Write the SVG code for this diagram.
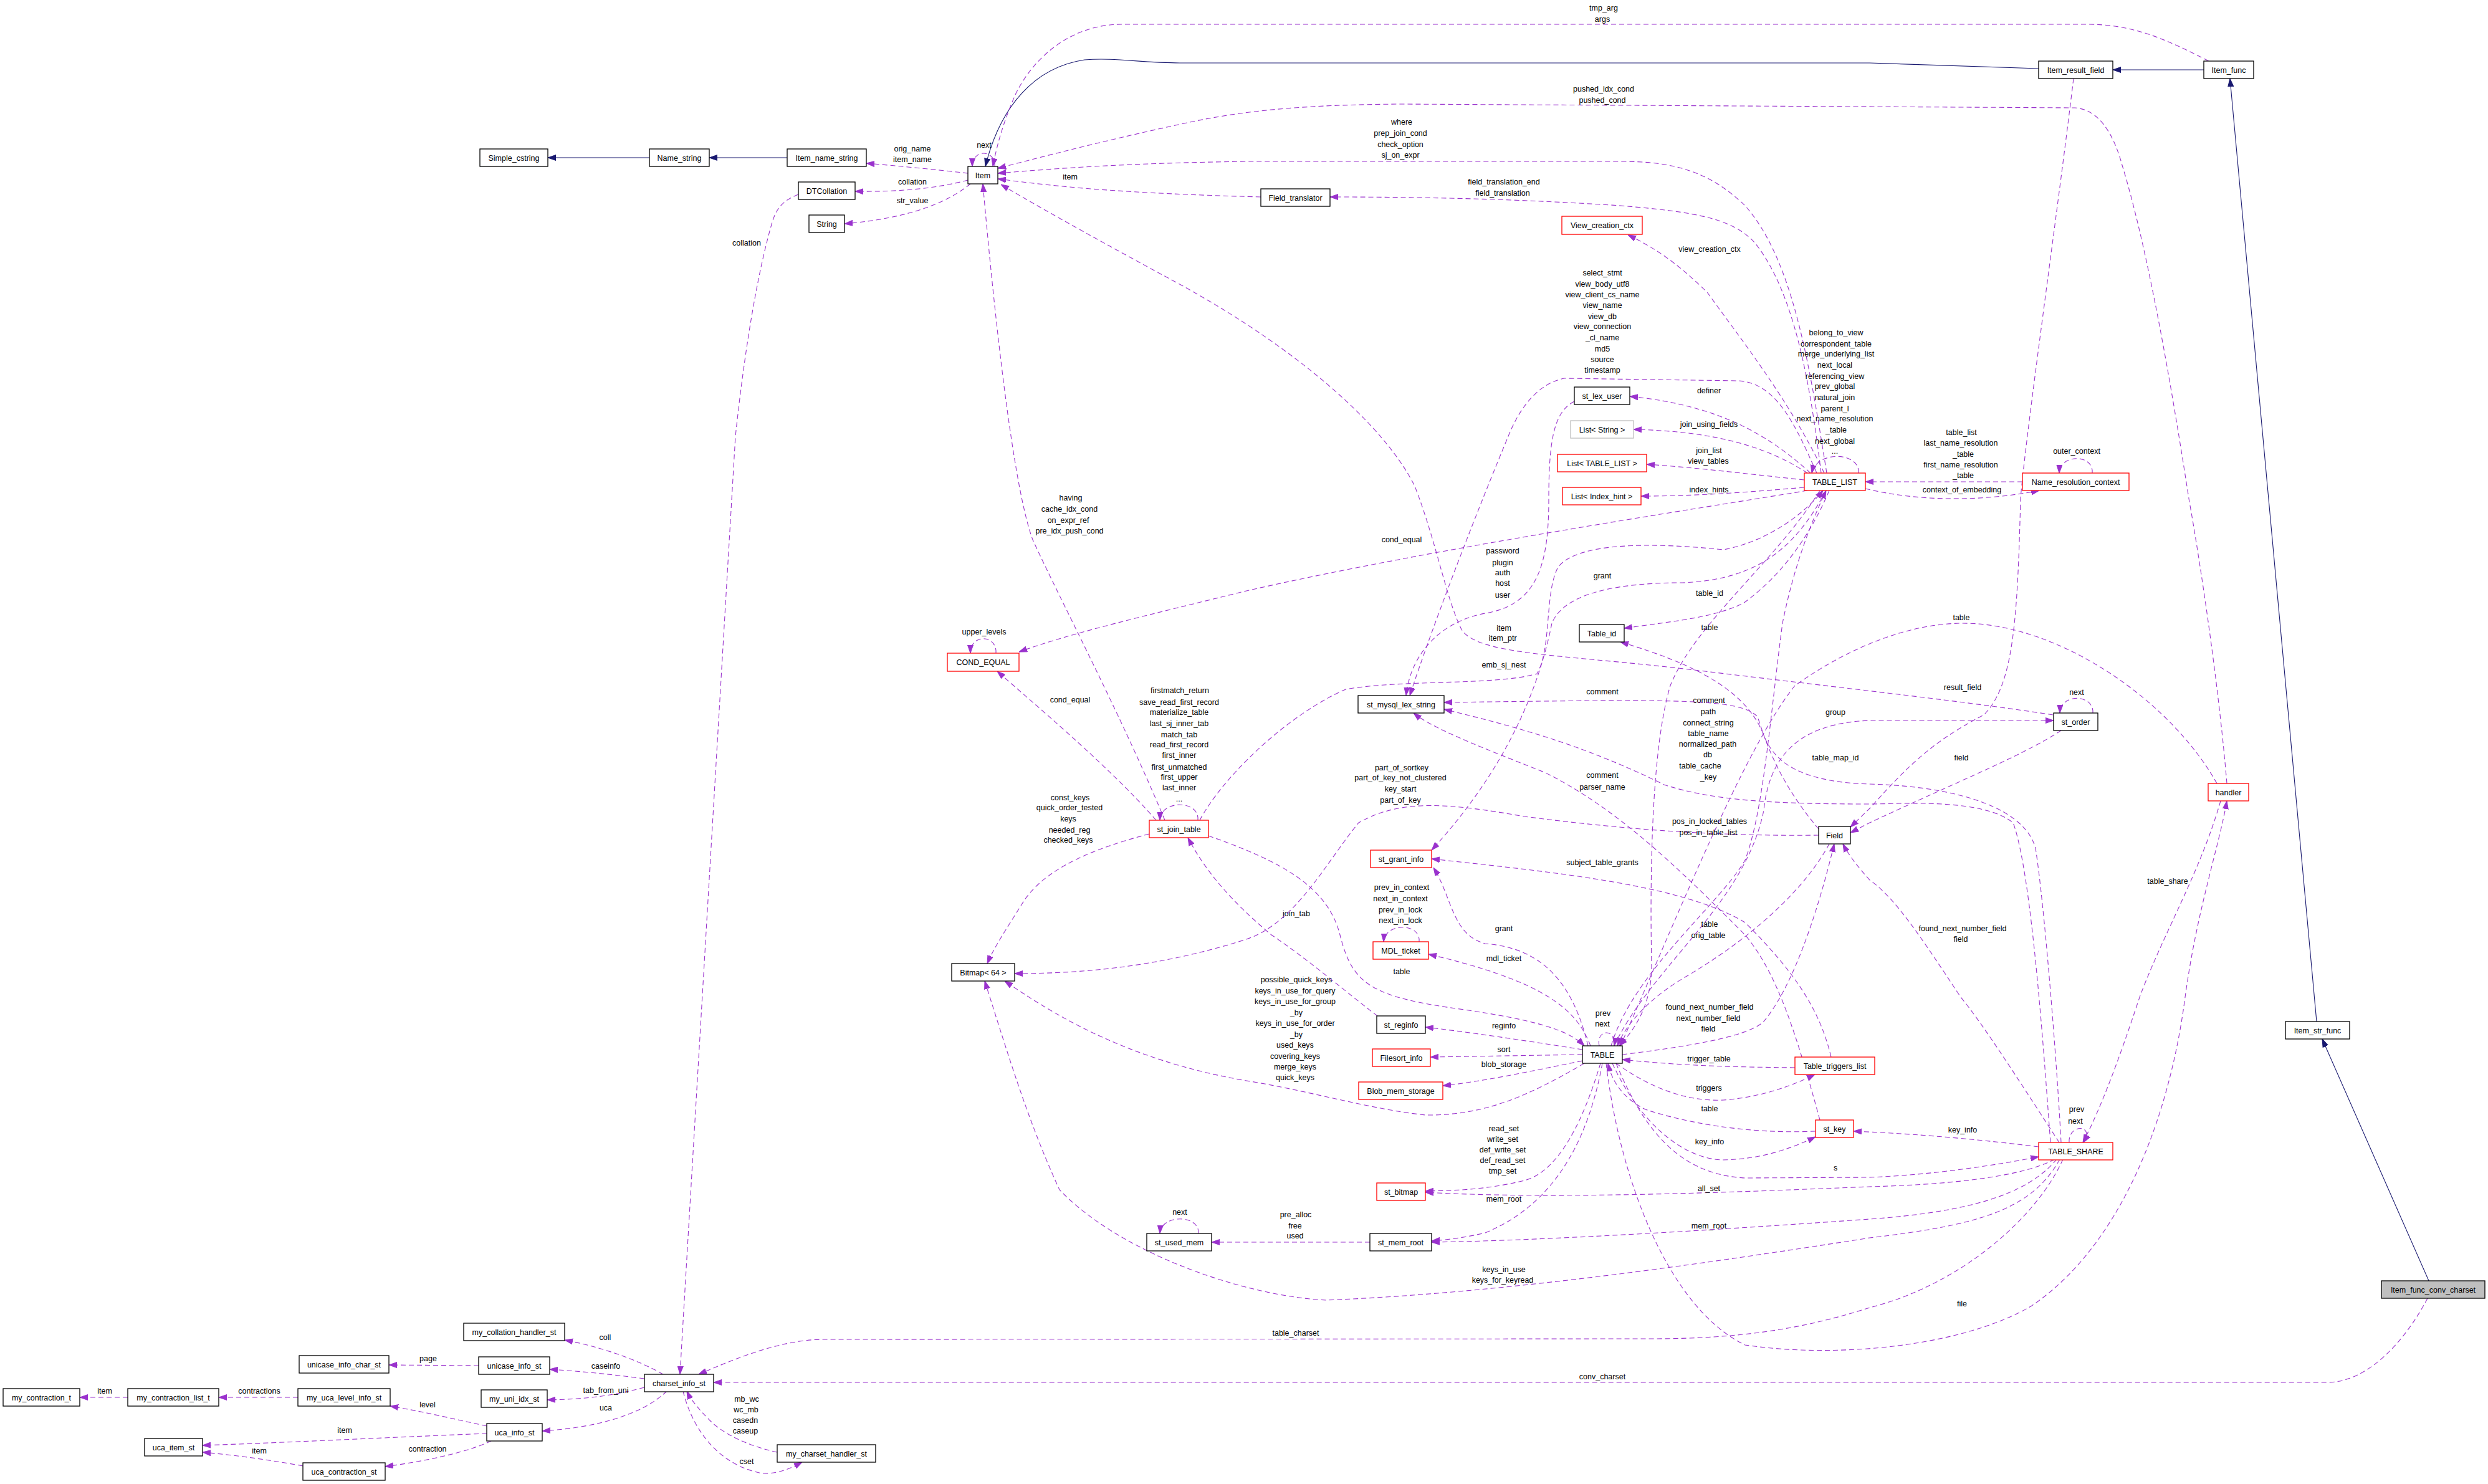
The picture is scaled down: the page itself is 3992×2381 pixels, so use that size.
<svg xmlns="http://www.w3.org/2000/svg" width="3992" height="2381" viewBox="0 0 3992 2381">
<style>
.n rect{fill:#fff;stroke:#000;stroke-width:1.3}
.n.r rect{stroke:#ff0000}
.n.g rect{stroke:#bfbfbf}
.n.f rect{fill:#bfbfbf}
text{font-family:"Liberation Sans",Arial,sans-serif;font-size:12.5px;text-anchor:middle;fill:#000}
.e path{fill:none;stroke:#9a32cd;stroke-width:1.1;stroke-dasharray:8,5;marker-end:url(#ap)}
.i path{fill:none;stroke:#191970;stroke-width:1.1;marker-end:url(#ab)}
</style>
<defs>
<marker id="ap" viewBox="0 0 13 10" refX="13" refY="5" markerWidth="13" markerHeight="10" orient="auto" markerUnits="userSpaceOnUse"><path d="M0,0.5 L13,5 L0,9.5 z" fill="#9a32cd" stroke="#9a32cd" stroke-width="1"/></marker>
<marker id="ab" viewBox="0 0 13 10" refX="13" refY="5" markerWidth="13" markerHeight="10" orient="auto" markerUnits="userSpaceOnUse"><path d="M0,0.5 L13,5 L0,9.5 z" fill="#191970" stroke="#191970" stroke-width="1"/></marker>
</defs>
<rect width="3992" height="2381" fill="#fff"/>
<g id="edges">
<g class="i"><path d="M1042,253 L879,253"/></g>
<g class="i"><path d="M1263,253 L1138,253"/></g>
<g class="i"><path d="M3271,110 L3000,101 L1893,101 C1830,101 1790,92 1740,96 C1660,108 1605,170 1581,267"/></g>
<g class="i"><path d="M3536,112 L3390,112"/></g>
<g class="i"><path d="M3717,1639 L3578,126"/></g>
<g class="i"><path d="M3897,2055 L3726,1667"/></g>

<g class="e"><path d="M1553,278 C1500,272 1440,266 1390,262"/><text x="1464" y="243">orig_name</text><text x="1464" y="260">item_name</text></g>
<g class="e"><path d="M1553,289 C1500,303 1440,308 1372,307"/><text x="1464" y="296">collation</text></g>
<g class="e"><path d="M1557,295 C1520,325 1460,350 1355,359"/><text x="1464" y="326">str_value</text></g>
<g class="e"><path d="M1596,267 C1598,240 1560,238 1560,267"/><text x="1579" y="237">next</text></g>
<g class="e"><path d="M1281,312 C1255,322 1245,335 1238,360 C1215,440 1195,560 1180,700 L1091,2205"/><text x="1198" y="394">collation</text></g>
<g class="e"><path d="M3544,98 C3470,60 3420,39 3348,39 L1800,39 C1720,39 1660,90 1630,150 C1612,190 1600,230 1593,267"/><text x="2573" y="17">tmp_arg</text><text x="2571" y="35">args</text></g>
<g class="e"><path d="M3573,1257 C3560,1100 3530,900 3512,800 C3475,560 3440,380 3405,265 C3390,210 3365,175 3329,173 L2250,167 C2100,168 2000,176 1900,198 C1760,228 1660,255 1601,270"/><text x="2573" y="147">pushed_idx_cond</text><text x="2571" y="165">pushed_cond</text></g>
<g class="e"><path d="M2931,759 C2905,600 2880,420 2800,330 C2740,272 2680,259 2600,259 L2000,259 C1800,262 1700,270 1601,278"/><text x="2249" y="200">where</text><text x="2247" y="218">prep_join_cond</text><text x="2247" y="236">check_option</text><text x="2247" y="253">sj_on_expr</text></g>
<g class="e"><path d="M2922,759 C2905,620 2880,470 2816,390 C2780,350 2720,340 2600,330 C2450,320 2300,316 2134,316"/><text x="2413" y="296">field_translation_end</text><text x="2411" y="314">field_translation</text></g>
<g class="e"><path d="M2023,316 C1800,310 1700,300 1601,287"/><text x="1717" y="288">item</text></g>
<g class="e"><path d="M2927,759 C2870,640 2790,540 2740,470 C2690,420 2650,395 2612,377"/><text x="2743" y="404">view_creation_ctx</text></g>
<g class="e"><path d="M2915,759 C2880,680 2850,615 2790,611 L2510,607 C2470,615 2440,650 2420,700 C2370,820 2300,1000 2262,1116"/><text x="2571" y="442">select_stmt</text><text x="2571" y="460">view_body_utf8</text><text x="2571" y="477">view_client_cs_name</text><text x="2571" y="494">view_name</text><text x="2571" y="512">view_db</text><text x="2571" y="528">view_connection</text><text x="2571" y="546">_cl_name</text><text x="2571" y="564">md5</text><text x="2571" y="581">source</text><text x="2571" y="598">timestamp</text></g>
<g class="e"><path d="M2905,759 C2840,700 2760,650 2615,636"/><text x="2742" y="631">definer</text></g>
<g class="e"><path d="M2526,644 C2495,660 2485,700 2485,800 C2485,900 2470,970 2383,984 C2300,1000 2262,1060 2256,1116"/><text x="2411" y="888">password</text><text x="2411" y="907">plugin</text><text x="2411" y="923">auth</text><text x="2411" y="940">host</text><text x="2411" y="959">user</text></g>
<g class="e"><path d="M2900,759 C2840,720 2760,692 2621,689"/><text x="2742" y="685">join_using_fields</text></g>
<g class="e"><path d="M2895,770 C2800,760 2720,750 2642,745"/><text x="2742" y="727">join_list</text><text x="2741" y="744">view_tables</text></g>
<g class="e"><path d="M2895,782 C2800,790 2720,796 2633,796"/><text x="2742" y="790">index_hints</text></g>
<g class="e"><path d="M2982,759 C2985,725 2915,722 2907,759"/><text x="2946" y="538">belong_to_view</text><text x="2946" y="556">correspondent_table</text><text x="2946" y="572">merge_underlying_list</text><text x="2944" y="590">next_local</text><text x="2944" y="608">referencing_view</text><text x="2944" y="624">prev_global</text><text x="2944" y="642">natural_join</text><text x="2944" y="660">parent_l</text><text x="2944" y="676">next_name_resolution</text><text x="2946" y="694">_table</text><text x="2944" y="712">next_global</text><text x="2944" y="728">...</text></g>
<g class="e"><path d="M3245,773 L2993,773"/><text x="3147" y="698">table_list</text><text x="3146" y="715">last_name_resolution</text><text x="3150" y="733">_table</text><text x="3146" y="750">first_name_resolution</text><text x="3150" y="767">_table</text></g>
<g class="e"><path d="M2993,784 C3080,805 3180,805 3272,787"/><text x="3148" y="790">context_of_embedding</text></g>
<g class="e"><path d="M3357,759 C3360,728 3305,728 3304,759"/><text x="3332" y="728">outer_context</text></g>
<g class="e"><path d="M2900,787 C2700,820 2300,880 2000,948 C1850,985 1720,1015 1635,1046"/><text x="2249" y="870">cond_equal</text></g>
<g class="e"><path d="M1598,1048 C1600,1018 1557,1016 1557,1048"/><text x="1579" y="1018">upper_levels</text></g>
<g class="e"><path d="M1869,1316 C1800,1150 1700,960 1657,866 C1625,780 1595,500 1577,295"/><text x="1718" y="803">having</text><text x="1716" y="821">cache_idx_cond</text><text x="1714" y="839">on_expr_ref</text><text x="1716" y="856">pre_idx_push_cond</text></g>
<g class="e"><path d="M1855,1316 C1780,1230 1660,1130 1600,1077"/><text x="1717" y="1127">cond_equal</text></g>
<g class="e"><path d="M1922,1316 C1925,1283 1862,1283 1861,1316"/><text x="1893" y="1112">firstmatch_return</text><text x="1892" y="1131">save_read_first_record</text><text x="1892" y="1147">materialize_table</text><text x="1892" y="1165">last_sj_inner_tab</text><text x="1892" y="1183">match_tab</text><text x="1892" y="1199">read_first_record</text><text x="1892" y="1216">first_inner</text><text x="1892" y="1235">first_unmatched</text><text x="1892" y="1251">first_upper</text><text x="1892" y="1268">last_inner</text><text x="1892" y="1286">...</text></g>
<g class="e"><path d="M1844,1338 C1740,1365 1670,1400 1640,1450 C1615,1490 1595,1520 1584,1546"/><text x="1717" y="1284">const_keys</text><text x="1716" y="1300">quick_order_tested</text><text x="1714" y="1318">keys</text><text x="1716" y="1336">needed_reg</text><text x="1714" y="1352">checked_keys</text></g>
<g class="e"><path d="M1939,1341 C2050,1380 2130,1420 2150,1500 C2170,1580 2200,1600 2350,1620 C2450,1635 2515,1650 2542,1678"/><text x="2249" y="1563">table</text></g>
<g class="e"><path d="M1925,1316 C1960,1250 2060,1150 2159,1106 C2250,1090 2400,1100 2466,1081 C2490,1040 2478,950 2500,910 C2530,870 2650,870 2765,882 C2830,870 2890,830 2925,787"/><text x="2413" y="1071">emb_sj_nest</text></g>
<g class="e"><path d="M2210,1630 C2170,1600 2100,1540 2040,1500 C1980,1450 1935,1400 1906,1344"/><text x="2080" y="1470">join_tab</text></g>
<g class="e"><path d="M3294,1147 C3150,1125 3000,1109 2702,1073 C2500,1050 2370,1050 2345,1010 C2320,960 2305,870 2270,780 C2220,680 2080,560 1900,460 C1780,395 1680,340 1606,296"/><text x="2413" y="1012">item</text><text x="2411" y="1028">item_ptr</text></g>
<g class="e"><path d="M3327,126 C3300,350 3250,700 3242,800 C3237,1000 3230,1100 3183,1147 C3100,1190 3060,1230 3000,1297 L2969,1327"/><text x="3149" y="1107">result_field</text></g>
<g class="e"><path d="M3557,1257 C3480,1120 3300,1000 3150,1000 C3050,1000 2950,1050 2880,1100 C2800,1200 2700,1450 2600,1678"/><text x="3147" y="995">table</text></g>
<g class="e"><path d="M2590,1678 C2650,1550 2800,1450 2830,1300 C2840,1200 2900,1160 3000,1156 L3295,1156"/><text x="2945" y="1147">group</text></g>
<g class="e"><path d="M3358,1144 C3360,1113 3306,1112 3305,1144"/><text x="3332" y="1115">next</text></g>
<g class="e"><path d="M3307,1172 C3250,1210 3150,1250 3000,1320 L2969,1336"/><text x="3147" y="1220">field</text></g>
<g class="e"><path d="M2577,1706 C2600,1900 2680,2100 2800,2158 C2950,2180 3150,2160 3260,2095 C3400,2000 3480,1800 3506,1600 C3525,1460 3560,1360 3573,1285"/><text x="3148" y="2096">file</text></g>
<g class="e"><path d="M3563,1285 C3530,1400 3470,1500 3433,1600 C3400,1700 3370,1780 3342,1833"/><text x="3478" y="1418">table_share</text></g>
<g class="e"><path d="M2593,1706 C2640,1820 2700,1885 2800,1890 L3000,1889 C3100,1885 3200,1870 3271,1856"/><text x="2945" y="1878">s</text></g>
<g class="e"><path d="M3320,1833 C3318,1803 3362,1803 3343,1833"/><text x="3332" y="1784">prev</text><text x="3330" y="1803">next</text></g>
<g class="e"><path d="M3271,1840 C3150,1825 3050,1818 2974,1815"/><text x="3149" y="1817">key_info</text></g>
<g class="e"><path d="M3297,1860 C3250,1885 3150,1900 3000,1904 C2800,1912 2500,1925 2287,1913"/><text x="2742" y="1911">all_set</text></g>
<g class="e"><path d="M3300,1860 C3250,1920 3150,1945 3000,1956 C2800,1970 2500,1990 2297,1993"/><text x="2742" y="1971">mem_root</text></g>
<g class="e"><path d="M3305,1860 C3260,1940 3180,1965 3000,1986 C2700,2033 2400,2075 2128,2086 C2000,2080 1800,2013 1700,1909 C1650,1800 1620,1700 1580,1574"/><text x="2413" y="2041">keys_in_use</text><text x="2411" y="2058">keys_for_keyread</text></g>
<g class="e"><path d="M3310,1860 C3270,1950 3150,2060 3000,2098 C2900,2130 2800,2148 2650,2148 L1320,2149 C1250,2150 1180,2180 1121,2205"/><text x="2079" y="2143">table_charset</text></g>
<g class="e"><path d="M3307,1833 C3300,1700 3280,1450 3266,1361 C3250,1300 3150,1262 3000,1258 C2900,1255 2850,1230 2830,1180 C2800,1100 2700,1060 2600,1030"/><text x="2945" y="1220">table_map_id</text></g>
<g class="e"><path d="M3290,1833 C3280,1700 3260,1400 3230,1320 C3180,1280 3050,1290 3000,1290 C2850,1290 2750,1285 2670,1259 C2550,1200 2450,1170 2317,1138"/><text x="2742" y="1128">comment</text><text x="2741" y="1146">path</text><text x="2741" y="1164">connect_string</text><text x="2741" y="1181">table_name</text><text x="2740" y="1198">normalized_path</text><text x="2740" y="1215">db</text><text x="2728" y="1233">table_cache</text><text x="2741" y="1251">_key</text></g>
<g class="e"><path d="M3304,1833 C3250,1750 3180,1640 3146,1600 C3080,1500 3040,1440 3000,1412 C2980,1390 2965,1370 2957,1354"/><text x="3149" y="1494">found_next_number_field</text><text x="3146" y="1511">field</text></g>
<g class="e"><path d="M2603,1692 C2700,1680 2800,1665 2829,1640 C2880,1580 2920,1450 2943,1354"/><text x="2743" y="1620">found_next_number_field</text><text x="2741" y="1638">next_number_field</text><text x="2741" y="1655">field</text></g>
<g class="e"><path d="M2935,1354 C2900,1420 2820,1500 2700,1570 C2650,1600 2610,1640 2595,1678"/><text x="2743" y="1487">table</text><text x="2741" y="1505">orig_table</text></g>
<g class="e"><path d="M2918,1330 C2850,1250 2830,1180 2820,1150 C2790,1120 2700,1122 2317,1127"/><text x="2571" y="1114">comment</text></g>
<g class="e"><path d="M2918,1340 C2750,1342 2600,1330 2446,1310 C2330,1290 2250,1280 2180,1320 C2130,1380 2080,1480 2000,1507 C1850,1555 1720,1562 1628,1562"/><text x="2249" y="1236">part_of_sortkey</text><text x="2247" y="1252">part_of_key_not_clustered</text><text x="2247" y="1270">key_start</text><text x="2247" y="1288">part_of_key</text></g>
<g class="e"><path d="M2585,1678 C2620,1560 2760,1450 2800,1380 C2830,1300 2840,1150 2860,1000 C2880,900 2910,830 2930,787"/><text x="2743" y="1322">pos_in_locked_tables</text><text x="2741" y="1340">pos_in_table_list</text></g>
<g class="e"><path d="M2920,787 C2850,900 2720,1000 2680,1100 C2650,1200 2647,1400 2650,1550 C2650,1620 2615,1660 2598,1678"/><text x="2743" y="1011">table</text></g>
<g class="e"><path d="M2935,787 C2900,870 2850,930 2797,968 C2750,990 2700,995 2606,1008"/><text x="2743" y="956">table_id</text></g>
<g class="e"><path d="M2930,787 C2880,880 2820,930 2700,935 C2600,935 2510,950 2490,1000 C2470,1100 2420,1230 2297,1364"/><text x="2571" y="928">grant</text></g>
<g class="e"><path d="M2548,1678 C2520,1560 2460,1520 2383,1514 C2330,1500 2330,1440 2300,1392"/><text x="2413" y="1494">grant</text></g>
<g class="e"><path d="M2938,1696 C2920,1620 2880,1560 2800,1480 C2700,1420 2500,1400 2297,1378"/><text x="2571" y="1388">subject_table_grants</text></g>
<g class="e"><path d="M2552,1678 C2530,1620 2480,1575 2292,1531"/><text x="2413" y="1542">mdl_ticket</text></g>
<g class="e"><path d="M2277,1511 C2280,1480 2222,1480 2220,1511"/><text x="2249" y="1428">prev_in_context</text><text x="2247" y="1446">next_in_context</text><text x="2247" y="1464">prev_in_lock</text><text x="2247" y="1481">next_in_lock</text></g>
<g class="e"><path d="M2539,1684 C2450,1670 2350,1655 2287,1648"/><text x="2413" y="1650">reginfo</text></g>
<g class="e"><path d="M2539,1692 L2295,1696"/><text x="2413" y="1688">sort</text></g>
<g class="e"><path d="M2539,1702 C2450,1720 2380,1735 2315,1742"/><text x="2413" y="1712">blob_storage</text></g>
<g class="e"><path d="M2542,1706 C2450,1760 2380,1790 2287,1789 C2200,1780 2100,1750 2000,1734 C1800,1700 1680,1620 1612,1574"/><text x="2080" y="1576">possible_quick_keys</text><text x="2078" y="1594">keys_in_use_for_query</text><text x="2078" y="1611">keys_in_use_for_group</text><text x="2080" y="1629">_by</text><text x="2078" y="1646">keys_in_use_for_order</text><text x="2080" y="1664">_by</text><text x="2078" y="1681">used_keys</text><text x="2078" y="1699">covering_keys</text><text x="2078" y="1716">merge_keys</text><text x="2078" y="1733">quick_keys</text></g>
<g class="e"><path d="M2568,1706 C2540,1800 2500,1880 2446,1894 C2380,1910 2330,1910 2287,1911"/><text x="2413" y="1815">read_set</text><text x="2411" y="1832">write_set</text><text x="2411" y="1849">def_write_set</text><text x="2411" y="1866">def_read_set</text><text x="2411" y="1883">tmp_set</text></g>
<g class="e"><path d="M2571,1706 C2550,1820 2500,1930 2383,1978 C2340,1988 2310,1990 2297,1991"/><text x="2413" y="1928">mem_root</text></g>
<g class="e"><path d="M2566,1678 C2560,1650 2595,1650 2590,1678"/><text x="2572" y="1630">prev</text><text x="2571" y="1647">next</text></g>
<g class="e"><path d="M2587,1706 C2630,1800 2700,1860 2765,1861 C2830,1860 2880,1840 2913,1824"/><text x="2743" y="1836">key_info</text></g>
<g class="e"><path d="M2913,1815 C2800,1820 2700,1800 2640,1780 C2600,1760 2585,1730 2580,1706"/><text x="2743" y="1783">table</text></g>
<g class="e"><path d="M2593,1706 C2640,1740 2700,1768 2765,1765 C2830,1760 2880,1740 2912,1724"/><text x="2742" y="1750">triggers</text></g>
<g class="e"><path d="M2880,1713 C2780,1712 2700,1710 2603,1700"/><text x="2742" y="1703">trigger_table</text></g>
<g class="e"><path d="M2920,1797 C2880,1650 2850,1560 2800,1500 C2700,1400 2600,1300 2480,1240 C2380,1200 2300,1170 2268,1144"/><text x="2571" y="1248">comment</text><text x="2571" y="1267">parser_name</text></g>
<g class="e"><path d="M2198,1993 L1944,1993"/><text x="2079" y="1953">pre_alloc</text><text x="2078" y="1971">free</text><text x="2078" y="1987">used</text></g>
<g class="e"><path d="M1923,1979 C1925,1948 1863,1948 1861,1979"/><text x="1893" y="1949">next</text></g>
<g class="e"><path d="M3895,2083 C3860,2150 3800,2218 3734,2218 L1145,2218"/><text x="2571" y="2213">conv_charset</text></g>
<g class="e"><path d="M1064,2205 C1020,2180 960,2160 906,2150"/><text x="971" y="2150">coll</text></g>
<g class="e"><path d="M1034,2212 C980,2205 930,2200 882,2197"/><text x="972" y="2196">caseinfo</text></g>
<g class="e"><path d="M1034,2226 C980,2240 940,2245 878,2246"/><text x="972" y="2235">tab_from_uni</text></g>
<g class="e"><path d="M1070,2232 C1030,2270 960,2290 870,2296"/><text x="972" y="2263">uca</text></g>
<g class="e"><path d="M1096,2232 C1110,2290 1150,2350 1223,2364 C1250,2365 1270,2355 1287,2346"/><text x="1198" y="2349">cset</text></g>
<g class="e"><path d="M1247,2330 C1200,2320 1160,2300 1140,2280 C1120,2260 1108,2245 1102,2232"/><text x="1198" y="2249">mb_wc</text><text x="1197" y="2266">wc_mb</text><text x="1196" y="2283">casedn</text><text x="1196" y="2300">caseup</text></g>
<g class="e"><path d="M768,2191 L624,2190"/><text x="687" y="2184">page</text></g>
<g class="e"><path d="M478,2242 L351,2242"/><text x="416" y="2236">contractions</text></g>
<g class="e"><path d="M205,2242 L128,2242"/><text x="168" y="2236">item</text></g>
<g class="e"><path d="M781,2288 C720,2275 680,2265 626,2256"/><text x="686" y="2258">level</text></g>
<g class="e"><path d="M781,2300 C650,2305 450,2315 325,2319"/><text x="553" y="2299">item</text></g>
<g class="e"><path d="M788,2312 C750,2330 680,2345 618,2353"/><text x="686" y="2329">contraction</text></g>
<g class="e"><path d="M486,2352 C430,2342 380,2335 325,2330"/><text x="416" y="2332">item</text></g>
</g>

<g id="node-Simple_cstring" class="n"><rect x="770" y="239" width="109" height="28"/><text x="824.5" y="257.5">Simple_cstring</text></g>
<g id="node-Name_string" class="n"><rect x="1042" y="239" width="96" height="28"/><text x="1090" y="257.5">Name_string</text></g>
<g id="node-Item_name_string" class="n"><rect x="1263" y="239" width="127" height="28"/><text x="1326.5" y="257.5">Item_name_string</text></g>
<g id="node-DTCollation" class="n"><rect x="1281" y="292" width="91" height="28"/><text x="1326.5" y="310.5">DTCollation</text></g>
<g id="node-String" class="n"><rect x="1298" y="345" width="57" height="28"/><text x="1326.5" y="363.5">String</text></g>
<g id="node-Item" class="n"><rect x="1553" y="267" width="48" height="28"/><text x="1577" y="285.5">Item</text></g>
<g id="node-Field_translator" class="n"><rect x="2023" y="303" width="111" height="28"/><text x="2078.5" y="321.5">Field_translator</text></g>
<g id="node-View_creation_ctx" class="n r"><rect x="2506" y="347" width="129" height="29"/><text x="2570.5" y="366">View_creation_ctx</text></g>
<g id="node-st_lex_user" class="n"><rect x="2526" y="621" width="89" height="28"/><text x="2570.5" y="639.5">st_lex_user</text></g>
<g id="node-List_String" class="n g"><rect x="2520" y="675" width="101" height="28"/><text x="2570.5" y="693.5">List&lt; String &gt;</text></g>
<g id="node-List_TABLE_LIST" class="n r"><rect x="2499" y="729" width="143" height="28"/><text x="2570.5" y="747.5">List&lt; TABLE_LIST &gt;</text></g>
<g id="node-List_Index_hint" class="n r"><rect x="2507" y="782" width="126" height="28"/><text x="2570" y="800.5">List&lt; Index_hint &gt;</text></g>
<g id="node-TABLE_LIST" class="n r"><rect x="2895" y="759" width="98" height="28"/><text x="2944" y="777.5">TABLE_LIST</text></g>
<g id="node-Item_result_field" class="n"><rect x="3271" y="98" width="119" height="28"/><text x="3330.5" y="116.5">Item_result_field</text></g>
<g id="node-Item_func" class="n"><rect x="3536" y="98" width="80" height="28"/><text x="3576" y="116.5">Item_func</text></g>
<g id="node-Name_resolution_context" class="n r"><rect x="3245" y="759" width="171" height="28"/><text x="3330.5" y="777.5">Name_resolution_context</text></g>
<g id="node-COND_EQUAL" class="n r"><rect x="1520" y="1048" width="115" height="29"/><text x="1577.5" y="1067">COND_EQUAL</text></g>
<g id="node-st_join_table" class="n r"><rect x="1844" y="1316" width="95" height="28"/><text x="1891.5" y="1334.5">st_join_table</text></g>
<g id="node-Bitmap64" class="n"><rect x="1527" y="1546" width="101" height="28"/><text x="1577.5" y="1564.5">Bitmap&lt; 64 &gt;</text></g>
<g id="node-Table_id" class="n"><rect x="2534" y="1002" width="72" height="28"/><text x="2570" y="1020.5">Table_id</text></g>
<g id="node-st_mysql_lex_string" class="n"><rect x="2179" y="1116" width="138" height="28"/><text x="2248" y="1134.5">st_mysql_lex_string</text></g>
<g id="node-st_grant_info" class="n r"><rect x="2199" y="1364" width="98" height="28"/><text x="2248" y="1382.5">st_grant_info</text></g>
<g id="node-MDL_ticket" class="n r"><rect x="2203" y="1511" width="89" height="28"/><text x="2247.5" y="1529.5">MDL_ticket</text></g>
<g id="node-Field" class="n"><rect x="2918" y="1326" width="51" height="28"/><text x="2943.5" y="1344.5">Field</text></g>
<g id="node-st_order" class="n"><rect x="3295" y="1144" width="71" height="28"/><text x="3330.5" y="1162.5">st_order</text></g>
<g id="node-handler" class="n r"><rect x="3543" y="1257" width="65" height="28"/><text x="3575.5" y="1275.5">handler</text></g>
<g id="node-TABLE" class="n"><rect x="2539" y="1678" width="64" height="28"/><text x="2571" y="1696.5">TABLE</text></g>
<g id="node-st_reginfo" class="n"><rect x="2209" y="1630" width="78" height="28"/><text x="2248" y="1648.5">st_reginfo</text></g>
<g id="node-Filesort_info" class="n r"><rect x="2202" y="1683" width="93" height="28"/><text x="2248.5" y="1701.5">Filesort_info</text></g>
<g id="node-Blob_mem_storage" class="n r"><rect x="2180" y="1736" width="135" height="28"/><text x="2247.5" y="1754.5">Blob_mem_storage</text></g>
<g id="node-st_bitmap" class="n r"><rect x="2209" y="1898" width="78" height="28"/><text x="2248" y="1916.5">st_bitmap</text></g>
<g id="node-st_mem_root" class="n"><rect x="2198" y="1979" width="99" height="28"/><text x="2247.5" y="1997.5">st_mem_root</text></g>
<g id="node-Table_triggers_list" class="n r"><rect x="2880" y="1696" width="128" height="28"/><text x="2944" y="1714.5">Table_triggers_list</text></g>
<g id="node-st_key" class="n r"><rect x="2913" y="1797" width="61" height="28"/><text x="2943.5" y="1815.5">st_key</text></g>
<g id="node-TABLE_SHARE" class="n r"><rect x="3271" y="1833" width="119" height="28"/><text x="3330.5" y="1851.5">TABLE_SHARE</text></g>
<g id="node-Item_str_func" class="n"><rect x="3667" y="1639" width="103" height="28"/><text x="3718.5" y="1657.5">Item_str_func</text></g>
<g id="node-Item_func_conv_charset" class="n f"><rect x="3821" y="2055" width="166" height="28"/><text x="3904" y="2073.5">Item_func_conv_charset</text></g>
<g id="node-st_used_mem" class="n"><rect x="1840" y="1979" width="104" height="28"/><text x="1892" y="1997.5">st_used_mem</text></g>
<g id="node-charset_info_st" class="n"><rect x="1034" y="2205" width="111" height="28"/><text x="1089.5" y="2223.5">charset_info_st</text></g>
<g id="node-my_charset_handler_st" class="n"><rect x="1247" y="2318" width="158" height="28"/><text x="1326" y="2336.5">my_charset_handler_st</text></g>
<g id="node-my_collation_handler_st" class="n"><rect x="744" y="2123" width="162" height="28"/><text x="825" y="2141.5">my_collation_handler_st</text></g>
<g id="node-unicase_info_char_st" class="n"><rect x="480" y="2175" width="144" height="28"/><text x="552" y="2193.5">unicase_info_char_st</text></g>
<g id="node-unicase_info_st" class="n"><rect x="768" y="2177" width="114" height="28"/><text x="825" y="2195.5">unicase_info_st</text></g>
<g id="node-my_contraction_t" class="n"><rect x="5" y="2228" width="123" height="28"/><text x="66.5" y="2246.5">my_contraction_t</text></g>
<g id="node-my_contraction_list_t" class="n"><rect x="205" y="2228" width="146" height="28"/><text x="278" y="2246.5">my_contraction_list_t</text></g>
<g id="node-my_uca_level_info_st" class="n"><rect x="478" y="2228" width="148" height="28"/><text x="552" y="2246.5">my_uca_level_info_st</text></g>
<g id="node-my_uni_idx_st" class="n"><rect x="772" y="2230" width="106" height="28"/><text x="825" y="2248.5">my_uni_idx_st</text></g>
<g id="node-uca_info_st" class="n"><rect x="781" y="2284" width="89" height="28"/><text x="825.5" y="2302.5">uca_info_st</text></g>
<g id="node-uca_item_st" class="n"><rect x="232" y="2308" width="93" height="28"/><text x="278.5" y="2326.5">uca_item_st</text></g>
<g id="node-uca_contraction_st" class="n"><rect x="486" y="2347" width="132" height="28"/><text x="552" y="2365.5">uca_contraction_st</text></g>
</svg>
